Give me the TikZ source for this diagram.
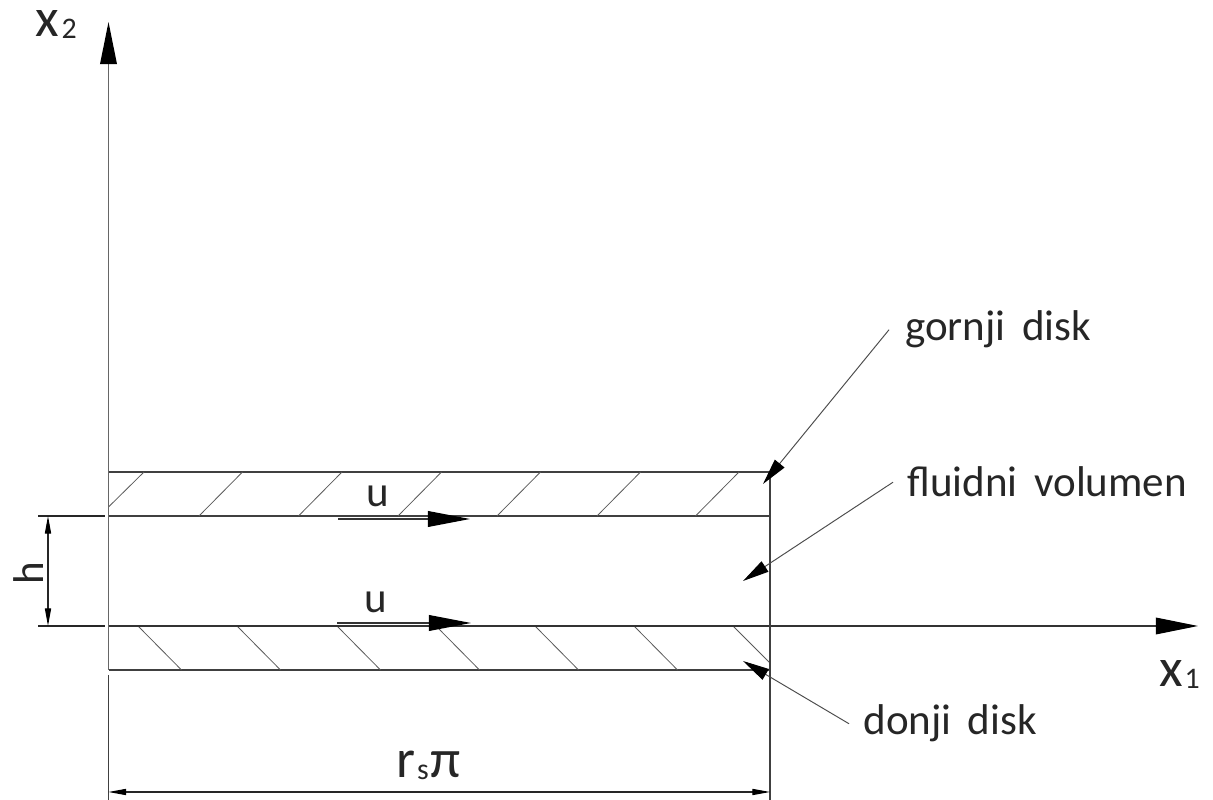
\documentclass[tikz,border=0pt]{standalone}
\usepackage{fontspec}
\setmainfont{Carlito}
\newfontfamily\labelfont[WordSpace=1.7]{Carlito}
\usetikzlibrary{arrows.meta}

\tikzset{
  wall/.style={line width=0.7pt,color=black!75},
  hatch/.style={line width=0.45pt,color=black!65},
  dimline/.style={line width=0.6pt,color=black!85},
  bigarrow/.style={line width=0.7pt,color=black!80,-{Triangle[length=24pt,width=9.5pt,color=black]}},
  flowarrow/.style={line width=0.7pt,color=black!80,-{Triangle[length=24pt,width=9pt,color=black]}},
  leader/.style={line width=0.55pt,color=black!70,-{Triangle[length=15pt,width=7pt,color=black]}},
  dimarrow/.style={dimline,{Triangle[length=10pt,width=3.5pt,color=black]}-{Triangle[length=10pt,width=3.5pt,color=black]}},
  label/.style={inner sep=0pt,font=\labelfont\fontsize{24.5}{28}\selectfont,color=black!85},
  axislabel/.style={inner sep=0pt,font=\fontsize{31}{34}\selectfont,color=black!85}
}
\newcommand{\subl}[1]{\raisebox{-1pt}{\fontsize{17}{20}\selectfont #1}}

\begin{document}
\begin{tikzpicture}[x=0.02cm,y=0.02cm]
\useasboundingbox (0,0) rectangle (1213,800);

%Define channel parameters
\def\xl{108.5}    %Left wall.
\def\xr{770}      %Right wall.
\def\yt{328}      %Top of upper disk.
\def\yu{284}      %Bottom of upper disk.
\def\yd{174}      %Top of lower disk, also the axis.
\def\yb{130}      %Bottom of lower disk.

% Define coordinates
\coordinate (orig) at (\xl,\yd);
\coordinate (x1end) at (1198,\yd);
\coordinate (x2end) at (\xl,778);
\coordinate (x2low) at (\xl,130);
\coordinate (x2foot) at (\xl,0);
\coordinate (wallfoot) at (\xr,0);
\coordinate (walltop) at (\xr,\yt);
\coordinate (hup) at (48,\yu);
\coordinate (hdown) at (48,\yd);
\coordinate (dimleft) at (\xl,8);
\coordinate (dimright) at (\xr,8);
\coordinate (upstart) at (338,281);
\coordinate (upend) at (470,281);
\coordinate (downstart) at (337,177);
\coordinate (downend) at (471,177);
\coordinate (gornjitip) at (763,316);
\coordinate (fluidtip) at (743,219);
\coordinate (donjitip) at (743,139);

% Draw disks
\draw[wall] (\xl,\yt) -- (\xr,\yt);
\draw[wall] (\xl,\yu) -- (\xr,\yu);
\draw[wall] (\xl,\yb) -- (\xr,\yb);

% Draw hatching of both disks
\draw[hatch] (\xl,293) -- (144,\yt);
\foreach \i in {199,298.5,398,497,597,695.5}
  \draw[hatch] (\i,\yu) -- (\i+43.5,\yt);
\foreach \i in {138,237,337,436,535,634}
  \draw[hatch] (\i,\yd) -- (\i+43.5,\yb);
\draw[hatch] (733,\yd) -- (\xr,137);

% Draw axes, and the walls.
\draw[bigarrow,color=black!60] (x2low) -- (x2end);
\draw[wall] (x2low) ++(0,-5) -- (x2foot);
\draw[bigarrow] (orig) -- (x1end);
\draw[wall] (walltop) -- (wallfoot);
\draw[dimline] (38,\yu) -- (105,\yu);
\draw[dimline] (38,\yd) -- (105,\yd);

% Draw dimensions
\draw[dimarrow] (hup) -- (hdown);
\draw[dimarrow] (dimleft) -- (dimright);

% Velocity arrows
\draw[flowarrow] (upstart) -- (upend);
\draw[flowarrow] (downstart) -- (downend);

% Labels
\node[axislabel,anchor=base west] (xtwo) at (35,763) {x\hspace{1.5pt}\subl{2}};
\node[axislabel,anchor=base west] (xone) at (1159,113) {x\hspace{1pt}\subl{1}};
\node[label,anchor=base] (uup) at (378,293) {u};
\node[label,anchor=base] (udown) at (376,187) {u};
\node[label,anchor=base,rotate=90] (hlab) at (43,227) {h};
\node[axislabel,anchor=base west] (rspi) at (396,22) {r\hspace{1pt}\subl{s}\hspace{1pt}π};
\node[label,anchor=base west,inner xsep=9pt] (gornji) at (889,459) {gornji disk};
\node[label,anchor=base west,inner xsep=8pt] (fluid) at (893,303) {fluidni volumen};
\node[label,anchor=base west,inner xsep=8pt] (donji) at (849,65) {donji disk};

% Leader lines
\draw[leader] (gornji.west) -- (gornjitip);
\draw[leader] (fluid.west) -- (fluidtip);
\draw[leader] (donji.west) -- (donjitip);

\end{tikzpicture}
\end{document}
